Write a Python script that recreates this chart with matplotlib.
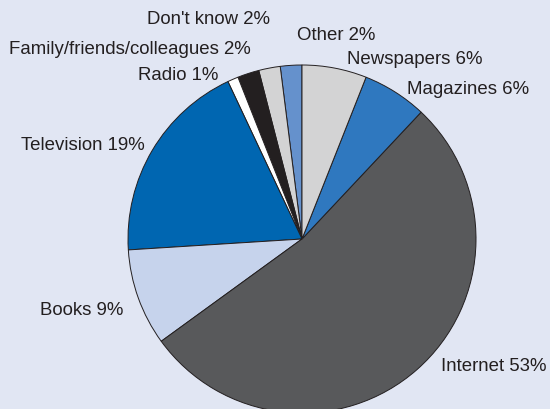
import matplotlib.pyplot as plt

# share of respondents by main information source (%)
sources = ["Other", "Don't know", "Family/friends/colleagues", "Radio",
           "Television", "Books", "Internet", "Magazines", "Newspapers"]
shares = [2, 2, 2, 1, 19, 9, 53, 6, 6]
colors = ["#6591CC", "#D3D3D4", "#231F20", "#FFFFFF",
          "#0066B1", "#C6D3EC", "#58595B", "#2F78BF", "#D3D3D4"]

# label anchor positions in pixels (left x, centre y from top)
label_pos = {
    "Other": (297, 35),
    "Don't know": (147, 20),
    "Family/friends/colleagues": (9, 49),
    "Radio": (138, 75),
    "Television": (21, 146),
    "Books": (40, 311),
    "Internet": (441, 367),
    "Magazines": (407, 89),
    "Newspapers": (347, 60),
}

W, H = 550, 410
fig = plt.figure(figsize=(W / 100, H / 100), dpi=100)
fig.patch.set_facecolor("#E1E6F3")
ax = fig.add_axes([0, 0, 1, 1])

ax.pie(shares, colors=colors, startangle=90, counterclock=True,
       center=(302, H - 240), radius=174, frame=True,
       wedgeprops=dict(edgecolor="#231F20", linewidth=0.7))
ax.set_xlim(0, W)
ax.set_ylim(0, H)
ax.set_aspect("equal")
ax.axis("off")

for name, val in zip(sources, shares):
    x, y = label_pos[name]
    ax.text(x, H - y, f"{name} {val}%", fontsize=13.4, color="#231F20",
            family="Liberation Sans", ha="left", va="center")

fig.savefig("out.png", dpi=100, facecolor=fig.get_facecolor())
